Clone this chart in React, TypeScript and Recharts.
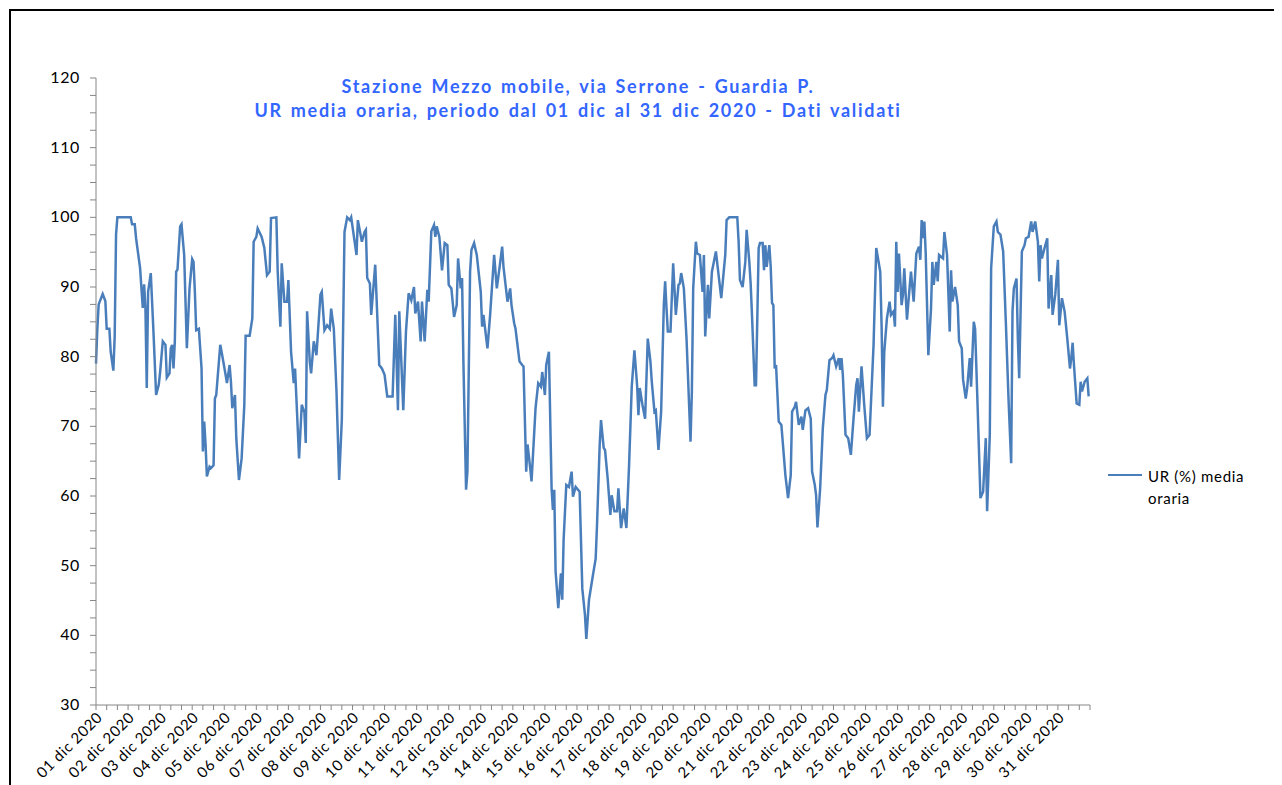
import React from 'react';
import { LineChart, Line, XAxis, YAxis } from 'recharts';

// ore dall'inizio del mese (0 = 01 dic 00:00) e UR media oraria
const hours = [
  0, 1, 2, 5, 7, 8, 10, 11, 13, 14, 15, 16, 26, 27, 29,
  30, 33, 35, 36, 37, 38, 39, 41, 43, 45, 47, 48, 50, 52, 53,
  55, 56, 57, 58, 59, 60, 61, 63, 64, 66, 68, 70, 72, 73, 74,
  75, 77, 79, 80, 81, 82, 83, 85, 86, 88, 89, 90, 93, 94, 97,
  98, 100, 101, 102, 104, 105, 107, 109, 111, 112, 115, 117, 118, 120, 121,
  122, 124, 126, 128, 130, 131, 135, 136, 138, 139, 141, 143, 144, 146, 148,
  149, 152, 154, 156, 157, 158, 160, 161, 163, 165, 168, 169, 171, 173, 175,
  176, 178, 180, 182, 184, 186, 188, 190, 191, 195, 196, 199, 201, 202, 203,
  205, 206, 209, 212, 214, 216, 218, 222, 224, 226, 227, 230, 232, 234, 236,
  238, 239, 241, 243, 244, 246, 248, 249, 251, 253, 254, 255, 257, 259, 261,
  263, 264, 266, 268, 270, 271, 273, 274, 275, 277, 278, 280, 281, 283, 285,
  288, 289, 290, 293, 295, 298, 300, 302, 304, 305, 308, 310, 311, 313, 314,
  317, 319, 320, 322, 323, 325, 326, 329, 331, 333, 334, 336, 337, 339, 341,
  342, 343, 344, 346, 348, 349, 350, 352, 354, 356, 357, 359, 362, 364, 366,
  367, 369, 372, 374, 375, 377, 378, 380, 381, 383, 385, 386, 388, 390, 391,
  393, 395, 397, 399, 401, 403, 405, 406, 407, 409, 411, 413, 415, 416, 418,
  419, 421, 423, 425, 426, 427, 428, 430, 432, 434, 436, 437, 438, 440, 442,
  445, 446, 447, 449, 450, 452, 454, 455, 456, 458, 459, 461, 464, 465, 468,
  471, 472, 474, 480, 481, 482, 484, 486, 487, 489, 490, 491, 493, 494, 496,
  497, 499, 500, 501, 502, 504, 505, 506, 507, 508, 509, 511, 513, 516, 518,
  520, 521, 523, 524, 526, 528, 529, 531, 533, 535, 536, 538, 539, 540, 542,
  544, 546, 547, 549, 551, 552, 554, 556, 557, 558, 559, 561, 563, 565, 567,
  569, 570, 571, 573, 575, 577, 579, 580, 582, 584, 587, 588, 589, 590, 592,
  594, 595, 597, 598, 599, 600, 601, 603, 604, 605, 607, 609, 610, 612, 614,
  616, 617, 618, 619, 620, 621, 623, 625, 626, 627, 629, 630, 631, 634, 635,
  637, 639, 640, 641, 643, 645, 646, 648, 649, 651, 652, 654, 655, 657, 658,
  660, 662, 664, 666, 667, 669, 670, 672, 674, 675, 677, 679, 681, 683, 685,
  686, 687, 689, 690, 691, 693, 695, 696, 698, 700, 701, 703, 705, 706, 707,
  708, 710, 712, 713, 715, 716, 718, 720, 721, 723, 725, 727, 729, 730, 731,
  732, 734, 736, 737, 738, 740, 742, 743,
];

const urValues = [
  79, 84, 87.5, 89, 88, 84, 84, 80.7, 78, 83, 97.5, 100, 100, 99, 99,
  97, 92.7, 87, 90.4, 87, 75.5, 89.3, 92, 83.6, 74.5, 76, 77.8, 82.2, 81.7, 77,
  77.6, 81.2, 81.7, 78.3, 82.2, 92.2, 92.5, 98.7, 99, 94.6, 81.2, 89.8, 94, 93.6, 89.3,
  83.8, 84, 78.3, 66.4, 70.7, 67.4, 62.8, 64.2, 64, 64.4, 74, 74.5, 81.7, 80.7, 77.4,
  76.2, 78.8, 76.4, 72.6, 74.5, 68.3, 62.3, 65.4, 73, 83, 83, 85.5, 96.5, 97.2, 98.4,
  98, 97.2, 95.6, 91.7, 92.2, 99.9, 100, 92.2, 84.3, 93.4, 87.9, 87.9, 91, 80.7, 76.2,
  78.3, 65.4, 73.1, 72, 67.6, 86.5, 79.3, 77.6, 82.2, 80.2, 88.9, 89.3, 83.8, 84.5, 84,
  86.9, 84, 75, 62.3, 71, 97.9, 100, 99.6, 100, 94.6, 99.6, 96.5, 97.9, 98.2, 91.3,
  90.5, 86, 93.2, 78.8, 78.3, 77.4, 74.3, 74.3, 86, 72.3, 86.5, 72.3, 83.6, 89.1, 88.1,
  90, 86.2, 87.9, 82.2, 87.9, 82.2, 89.6, 87.9, 98, 98.9, 97.2, 98.7, 97.2, 92.4, 96.3,
  96, 90.3, 89.8, 85.7, 87.4, 94.1, 89.8, 91.3, 79.3, 60.9, 63.5, 92.2, 95.3, 96.3, 94.6,
  89.3, 84.3, 86, 81.2, 86, 94.6, 89.8, 92.7, 95.8, 92.9, 87.9, 89.8, 87.4, 84.8, 84,
  79.3, 78.8, 78.6, 63.5, 67.4, 64, 62.1, 72.6, 76.2, 75.7, 77.8, 74.5, 78.8, 80.7, 61.1,
  58, 60.9, 49.2, 43.9, 48.9, 45.1, 53.7, 61.6, 61.3, 63.5, 59.9, 61.3, 60.6, 46.7, 42.9,
  39.5, 45.1, 48.7, 51, 55.8, 67.3, 70.9, 66.9, 66.6, 62.5, 57.3, 60.1, 57.8, 57.8, 61.1,
  55.4, 58.2, 55.4, 64.4, 75.7, 80.9, 75.9, 71.6, 75.5, 73.1, 71.1, 82.6, 79.3, 76.4, 72.1,
  72.3, 66.6, 72.1, 87.4, 90.8, 87, 83.6, 83.6, 93.4, 86, 90.3, 90.5, 92, 89.8, 82.6,
  67.8, 75, 89.8, 96.5, 94.8, 94.6, 89.3, 94.6, 82.9, 90.3, 85.5, 92.2, 95.1, 93.4, 88.4,
  94.6, 99.6, 100, 100, 96.5, 91, 90, 93.6, 98.2, 93.6, 90.5, 86, 75.9, 75.9, 95.6,
  96.3, 96.3, 92.4, 96, 92.9, 96, 92.9, 87.7, 87.4, 78.3, 78.8, 70.7, 70.2, 63, 59.7,
  63, 72.1, 72.8, 73.5, 70.2, 71.4, 69.5, 72.3, 72.6, 71.1, 63.5, 61.6, 60.1, 55.5, 61,
  69.7, 74.5, 75.2, 79.5, 79.8, 80.2, 78.6, 79.8, 78.1, 79.8, 77.4, 68.8, 68.3, 65.9, 71.1,
  75.9, 76.9, 72.1, 78.6, 73.1, 68.3, 68.8, 73.1, 81.7, 95.6, 92.2, 84.5, 72.8, 80.7, 85.5,
  87.9, 86, 86.5, 84.3, 96.5, 89.3, 94.8, 87.4, 88.9, 92.7, 85.3, 90, 92.2, 87.9, 94.8,
  95.8, 93.9, 99.6, 97, 99.4, 95, 80.2, 86.9, 93.6, 90.3, 93.6, 90.8, 94.6, 94.1, 97.9,
  94.6, 83.6, 92.4, 87.9, 90, 87.4, 82.2, 81.2, 76.7, 74, 75.4, 79.8, 75.7, 85, 84,
  72.1, 59.7, 60.6, 68.3, 57.8, 68.8, 92.7, 98.7, 99.4, 97.9, 97.5, 95.1, 85, 74, 64.7,
  86.5, 89.8, 91.2, 82.6, 76.9, 95.1, 96, 97, 97.2, 99.4, 97.9, 99.4, 96.5, 90.8, 96,
  94.1, 95.6, 97, 86.9, 91.7, 86, 88.9, 93.9, 84.5, 88.4, 86.5, 82.6, 78.3, 79.8, 82,
  78.8, 73.3, 73.1, 76.4, 75, 76.4, 76.9, 74.3,
];

const dayLabels = [
  '01 dic 2020', '02 dic 2020', '03 dic 2020', '04 dic 2020', '05 dic 2020', '06 dic 2020',
  '07 dic 2020', '08 dic 2020', '09 dic 2020', '10 dic 2020', '11 dic 2020', '12 dic 2020',
  '13 dic 2020', '14 dic 2020', '15 dic 2020', '16 dic 2020', '17 dic 2020', '18 dic 2020',
  '19 dic 2020', '20 dic 2020', '21 dic 2020', '22 dic 2020', '23 dic 2020', '24 dic 2020',
  '25 dic 2020', '26 dic 2020', '27 dic 2020', '28 dic 2020', '29 dic 2020', '30 dic 2020',
  '31 dic 2020',
];

const yTicks = [
  30, 32.5, 35, 37.5, 40, 42.5, 45, 47.5, 50, 52.5, 55, 57.5, 60, 62.5, 65, 67.5,
  70, 72.5, 75, 77.5, 80, 82.5, 85, 87.5, 90, 92.5, 95, 97.5, 100, 102.5, 105, 107.5,
  110, 112.5, 115, 117.5, 120,
];

// un trattino ogni 8 ore, etichetta una volta al giorno
const xTicks = Array.from({ length: 94 }, (_, i) => i * 8);

const data = hours.map((h, i) => ({ h, ur: urValues[i] }));

const FONT = 'Lato, "Open Sans", sans-serif';
const AXIS = '#868686';
const LINE = '#4A7EBB';

const YTick = (props: any) => {
    const { x, y, payload } = props;
    if (payload.value % 10 !== 0) return <g />;
    return (
        <text x={x} y={y} dy={5} textAnchor="end" fontSize={16} letterSpacing={0.6} fill="#000" fontFamily={FONT}>
            {payload.value}
        </text>
    );
};

const XTick = (props: any) => {
    const { x, y, payload } = props;
    const day = payload.value / 24;
    if (!Number.isInteger(day) || day >= dayLabels.length) return <g />;
    return (
        <text
            x={x + 1}
            y={y}
            dy={9}
            textAnchor="end"
            fontSize={15}
            letterSpacing={0.6}
            fill="#000"
            fontFamily={FONT}
            transform={`rotate(-45, ${x + 1}, ${y})`}
        >
            {dayLabels[day]}
        </text>
    );
};

const App: React.FC = () => {
    return (
        <div style={{ position: 'relative', width: 1274, height: 777, overflow: 'hidden', background: '#fff' }}>
            <div
                style={{
                    position: 'absolute',
                    left: 1,
                    top: 1,
                    width: 1280,
                    height: 790,
                    borderTop: '2px solid #000',
                    borderLeft: '2px solid #000',
                }}
            />
            <div
                style={{
                    position: 'absolute',
                    left: 170,
                    top: 66,
                    width: 800,
                    textAlign: 'center',
                    fontFamily: FONT,
                    fontWeight: 700,
                    fontSize: 18,
                    letterSpacing: 1.7,
                    wordSpacing: 2,
                    lineHeight: '24px',
                    color: '#3366FF',
                }}
            >
                <div>Stazione Mezzo mobile, via Serrone - Guardia P.</div>
                <div>UR media oraria, periodo dal 01 dic al 31 dic 2020 - Dati validati</div>
            </div>
            <div style={{ position: 'absolute', left: 1100, top: 466, width: 34, height: 0, borderTop: `2.5px solid ${LINE}` }} />
            <div
                style={{
                    position: 'absolute',
                    left: 1140,
                    top: 457,
                    fontFamily: FONT,
                    fontSize: 15,
                    letterSpacing: 0.7,
                    lineHeight: '22px',
                    color: '#000',
                }}
            >
                UR (%) media
                <br />
                oraria
            </div>
            <div style={{ position: 'absolute', left: 0, top: 0 }}>
                <LineChart width={1274} height={777} data={data} margin={{ top: 70, right: 192, left: 28, bottom: 0 }}>
                    <XAxis
                        dataKey="h"
                        type="number"
                        domain={[0, 744]}
                        ticks={xTicks}
                        interval={0}
                        height={80}
                        stroke={AXIS}
                        tickSize={5}
                        tickMargin={2}
                        tick={<XTick />}
                    />
                    <YAxis
                        type="number"
                        domain={[30, 120]}
                        ticks={yTicks}
                        interval={0}
                        width={60}
                        stroke={AXIS}
                        tickSize={6}
                        tickMargin={10}
                        tick={<YTick />}
                    />
                    <Line
                        type="linear"
                        dataKey="ur"
                        stroke={LINE}
                        strokeWidth={2.5}
                        dot={false}
                        activeDot={false}
                        isAnimationActive={false}
                    />
                </LineChart>
            </div>
        </div>
    );
};

export default App;
